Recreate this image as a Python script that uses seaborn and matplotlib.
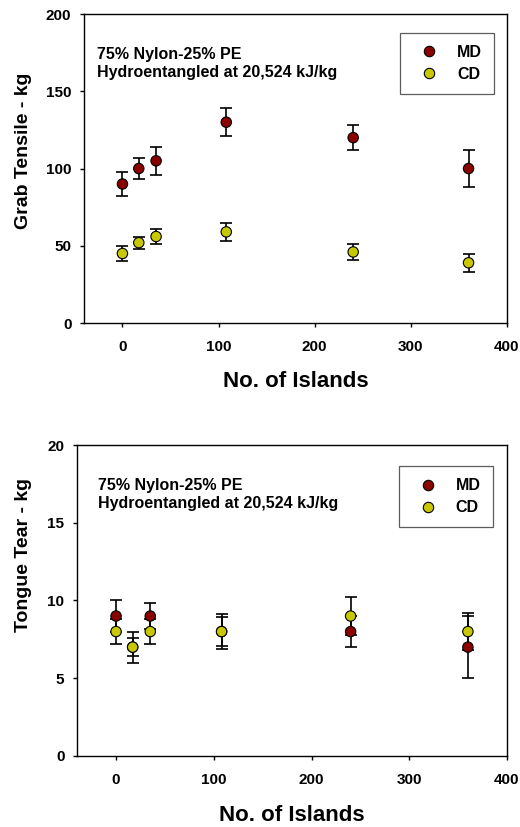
import numpy as np
import pandas as pd
import matplotlib
matplotlib.use("Agg")
import matplotlib.pyplot as plt
import seaborn as sns

# ── Data ──────────────────────────────────────────────────────
islands = [0, 17, 35, 108, 240, 360]

tensile_md = [90, 100, 105, 130, 120, 100]
tensile_md_err = [8, 7, 9, 9, 8, 12]
tensile_cd = [45, 52, 56, 59, 46, 39]
tensile_cd_err = [5, 4, 5, 6, 5, 6]

tear_md = [9, 7, 9, 8, 8, 7]
tear_md_err = [1.0, 1.0, 0.85, 1.1, 1.0, 2.0]
tear_cd = [8, 7, 8, 8, 9, 8]
tear_cd_err = [0.8, 0.6, 0.8, 0.95, 1.2, 1.2]

series = ["MD", "CD"]
note = "75% Nylon-25% PE\nHydroentangled at 20,524 kJ/kg"

COLORS = {"MD": "#8B0000", "CD": "#C8C800"}

sns.set_style("ticks")
plt.rcParams.update({
    "font.family": ["Liberation Sans", "DejaVu Sans"],
    "font.weight": "bold",
    "text.color": "black",
    "axes.labelcolor": "black",
    "xtick.color": "black",
    "ytick.color": "black",
    "axes.edgecolor": "black",
    "axes.linewidth": 1.0,
    "xtick.major.size": 3,
    "ytick.major.size": 3,
    "xtick.major.width": 1.0,
    "ytick.major.width": 1.0,
    "xtick.direction": "out",
    "ytick.direction": "out",
})


def make_frame(md, md_err, cd, cd_err):
    return pd.DataFrame({
        "islands": islands * 2,
        "value": md + cd,
        "err": md_err + cd_err,
        "series": ["MD"] * len(md) + ["CD"] * len(cd),
    })


def draw_panel(ax, df, ylim, yticks, ylabel, ylabel_x, ylabel_y, note_x, legend_anchor):
    for s in series:
        sub = df[df["series"] == s]
        ax.errorbar(sub["islands"], sub["value"], yerr=sub["err"], fmt="none",
                    ecolor="black", elinewidth=1.2, capsize=4, capthick=1.2, zorder=2)
    sns.scatterplot(data=df, x="islands", y="value", hue="series",
                    hue_order=series, palette=COLORS, s=56, edgecolor="black",
                    linewidth=0.8, zorder=3, ax=ax)

    ax.set_xlim(-40, 400)
    ax.set_ylim(*ylim)
    ax.set_xticks([0, 100, 200, 300, 400])
    ax.set_yticks(yticks)
    ax.tick_params(labelsize=11, pad=6)
    ax.tick_params(axis="x", pad=9)
    for lab in ax.get_xticklabels() + ax.get_yticklabels():
        lab.set_fontweight("bold")

    ax.set_xlabel("No. of Islands", fontsize=16, fontweight="bold", va="center")
    ax.set_ylabel(ylabel, fontsize=14, fontweight="bold", va="center")
    ax.xaxis.set_label_coords(0.5, -0.19)
    ax.yaxis.set_label_coords(ylabel_x, ylabel_y)

    ax.text(note_x, 0.895, note, transform=ax.transAxes, ha="left", va="top",
            fontsize=11.5, fontweight="bold", linespacing=1.25)

    handles, labels = ax.get_legend_handles_labels()
    leg = ax.legend(handles, labels, loc="upper right", bbox_to_anchor=legend_anchor,
                    frameon=True, fancybox=False, edgecolor="#333333",
                    prop={"size": 11.5, "weight": "bold"},
                    borderpad=0.75, handlelength=2.1, handletextpad=0.7,
                    labelspacing=0.45, borderaxespad=0)
    leg.get_frame().set_linewidth(0.9)


fig = plt.figure(figsize=(5.2, 8.27), dpi=100)
fig.patch.set_facecolor("white")

ax1 = fig.add_axes([0.1615, 0.6094, 0.8135, 0.3736])
draw_panel(ax1, make_frame(tensile_md, tensile_md_err, tensile_cd, tensile_cd_err),
           (0, 200), [0, 50, 100, 150, 200], "Grab Tensile - kg", -0.142, 0.557,
           0.031, (0.969, 0.939))

ax2 = fig.add_axes([0.148, 0.0859, 0.827, 0.376])
draw_panel(ax2, make_frame(tear_md, tear_md_err, tear_cd, tear_cd_err),
           (0, 20), [0, 5, 10, 15, 20], "Tongue Tear - kg", -0.125, 0.646,
           0.048, (0.967, 0.932))

fig.savefig("out.png", dpi=100, facecolor="white")
